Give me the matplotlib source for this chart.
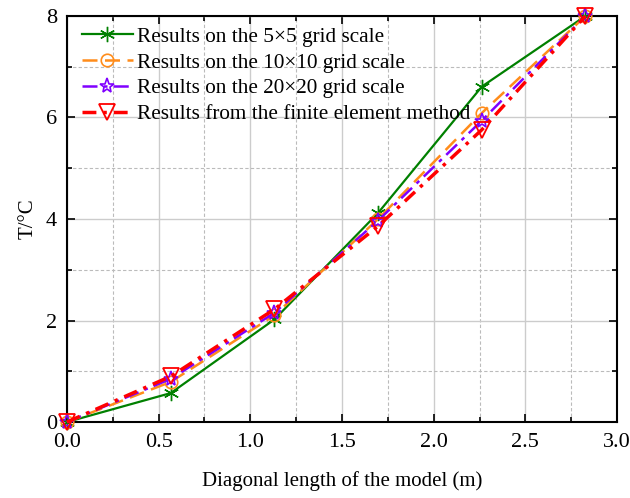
import matplotlib
matplotlib.use("Agg")
import matplotlib.pyplot as plt
from matplotlib.ticker import MultipleLocator, FormatStrFormatter

x = [0.0, 0.566, 1.131, 1.697, 2.263, 2.828]
grid5 = [0.0, 0.57, 2.02, 4.12, 6.61, 8.0]
grid10 = [0.0, 0.79, 2.10, 4.00, 6.09, 8.0]
grid20 = [0.0, 0.85, 2.15, 3.97, 5.94, 8.0]
fem = [0.0, 0.90, 2.22, 3.86, 5.76, 8.0]

labels = ["Results on the 5\u00d75 grid scale",
          "Results on the 10\u00d710 grid scale",
          "Results on the 20\u00d720 grid scale",
          "Results from the finite element method"]

plt.rcParams['font.family'] = ['Liberation Serif', 'DejaVu Serif']

fig = plt.figure(figsize=(6.3, 4.98), dpi=100)
ax = fig.add_axes([0.1063, 0.1526, 0.8731, 0.8153])

ax.plot(x, grid5, color='#008000', lw=1.6, ls='-', marker=(6, 2, 0), ms=11,
        mew=1.0, label=labels[0], clip_on=False, zorder=3)
ax.plot(x, grid10, color='#FF8C1A', lw=1.8, ls=(0, (6, 3)), marker='o', ms=9,
        mfc='none', mew=1.2, label=labels[1], clip_on=False, zorder=3)
ax.plot(x, grid20, color='#8000FF', lw=1.8, ls=(0, (6, 2.5, 1.5, 2.5)), marker='*', ms=11,
        mfc='none', mew=1.2, label=labels[2], clip_on=False, zorder=3)
ax.plot(x, fem, color='#FF0000', lw=2.5, ls=(0, (4, 2, 1, 2)), marker='v', ms=11,
        mfc='none', mew=1.3, label=labels[3], clip_on=False, zorder=3)

ax.set_xlim(0, 3.0)
ax.set_ylim(0, 8)
ax.xaxis.set_major_locator(MultipleLocator(0.5))
ax.xaxis.set_minor_locator(MultipleLocator(0.25))
ax.yaxis.set_major_locator(MultipleLocator(2))
ax.yaxis.set_minor_locator(MultipleLocator(1))
ax.xaxis.set_major_formatter(FormatStrFormatter('%.1f'))

ax.grid(which='major', color='#cccccc', lw=1.0, ls='-', zorder=0)
ax.grid(which='minor', color='#bbbbbb', lw=0.8, ls=(0, (3, 2)), zorder=0)
ax.set_axisbelow(True)

ax.tick_params(which='both', direction='in', top=True, right=True, labelsize=16, width=1.2)
ax.tick_params(which='major', length=6)
ax.tick_params(which='minor', length=3.5)
ax.tick_params(axis='x', which='major', pad=8)
ax.tick_params(axis='y', which='major', pad=7)
for s in ax.spines.values():
    s.set_linewidth(1.5)

ax.set_xlabel("Diagonal length of the model (m)", fontsize=15, labelpad=14)
ax.set_ylabel("T/\u00b0C", fontsize=15, labelpad=6)

ax.legend(loc='upper left', bbox_to_anchor=(0.0, 1.01), frameon=False, fontsize=15.3,
          handlelength=2.4, handletextpad=0.2, labelspacing=0.28, borderaxespad=0.3)

fig.savefig("out.png", dpi=100)
